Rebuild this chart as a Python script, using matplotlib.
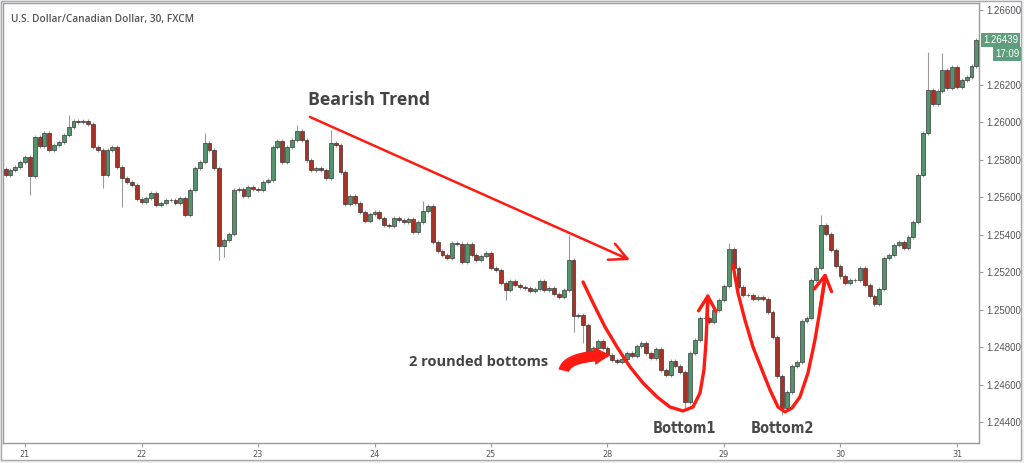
import numpy as np
import matplotlib
matplotlib.use("Agg")
import matplotlib.pyplot as plt
from matplotlib.patches import Rectangle, FancyArrowPatch

# USD/CAD candles, one per hour; x in trading days (0 = day 21, weekend removed)
first_hour = -4
closes = [
    1.25719, 1.25745, 1.25761, 1.25788,
    # 21
    1.25815, 1.25713, 1.25921, 1.25873, 1.25943, 1.25852, 1.25879, 1.25895,
    1.25932, 1.25975, 1.26007, 1.26001, 1.26007, 1.25991, 1.25868, 1.25852,
    1.25719, 1.25852, 1.25868, 1.25761, 1.25703, 1.25681, 1.25665, 1.25591,
    # 22
    1.25575, 1.25596, 1.25623, 1.25559, 1.25569, 1.25585, 1.25585, 1.25569,
    1.25596, 1.25505, 1.25639, 1.25756, 1.25788, 1.25889, 1.25852, 1.25756,
    1.25340, 1.25372, 1.25404, 1.25639, 1.25644, 1.25607, 1.25655, 1.25644,
    # 23
    1.25639, 1.25681, 1.25692, 1.25868, 1.25900, 1.25788, 1.25868, 1.25905,
    1.25953, 1.25905, 1.25799, 1.25745, 1.25756, 1.25745, 1.25703, 1.25889,
    1.25879, 1.25735, 1.25564, 1.25607, 1.25569, 1.25521, 1.25473, 1.25511,
    # 24
    1.25521, 1.25489, 1.25452, 1.25447, 1.25489, 1.25479, 1.25468, 1.25484,
    1.25415, 1.25468, 1.25527, 1.25553, 1.25361, 1.25313, 1.25292, 1.25276,
    1.25356, 1.25351, 1.25255, 1.25351, 1.25292, 1.25265, 1.25287, 1.25303,
    # 25
    1.25223, 1.25212, 1.25143, 1.25105, 1.25153, 1.25132, 1.25121, 1.25116,
    1.25100, 1.25111, 1.25153, 1.25105, 1.25116, 1.25084, 1.25068, 1.25105,
    1.25265, 1.24967, 1.24972, 1.24919, 1.24754, 1.24796, 1.24833, 1.24796,
    # 28
    1.24759, 1.24732, 1.24721, 1.24737, 1.24769, 1.24754, 1.24807, 1.24823,
    1.24769, 1.24743, 1.24791, 1.24679, 1.24653, 1.24727, 1.24701, 1.24668,
    1.24510, 1.24769, 1.24839, 1.24956, 1.24956, 1.24935, 1.24999, 1.25052,
    # 29
    1.25127, 1.25324, 1.25223, 1.25121, 1.25079, 1.25079, 1.25057, 1.25068,
    1.25057, 1.24988, 1.24855, 1.24647, 1.24476, 1.24561, 1.24701, 1.24721,
    1.24940, 1.24956, 1.25159, 1.25223, 1.25452, 1.25404, 1.25319, 1.25233,
    # 30
    1.25178, 1.25143, 1.25159, 1.25159, 1.25223, 1.25132, 1.25074, 1.25031,
    1.25111, 1.25276, 1.25292, 1.25345, 1.25361, 1.25329, 1.25388, 1.25468,
    1.25719, 1.25943, 1.26172, 1.26097, 1.26167, 1.26279, 1.26183, 1.26295,
    # 31
    1.26188, 1.26225, 1.26241, 1.26300, 1.26439,
]
first_open = 1.25750

# longer wicks (hour index -> price)
spike_high = {9: 1.26040, 37: 1.25940, 56: 1.25985, 63: 1.25959, 82: 1.25580,
              112: 1.25399, 145: 1.25356, 164: 1.25505, 186: 1.26375, 189: 1.26370}
spike_low = {1: 1.25612, 16: 1.25649, 20: 1.25548, 40: 1.25265, 41: 1.25280,
             99: 1.25050, 113: 1.24880, 115: 1.24820, 136: 1.24476, 156: 1.24439}

day_labels = ["21", "22", "23", "24", "25", "28", "29", "30", "31"]
# 1.26400 sits under the last-price boxes, so it is not labelled
price_ticks = [1.244, 1.246, 1.248, 1.250, 1.252, 1.254, 1.256, 1.258, 1.260, 1.262, 1.266]
last_price = 1.26439
countdown = "17:09"

GREEN = "#53946d"
RED = "#a93226"
ANN = "#ff1a12"

closes = np.array(closes)
opens = np.concatenate([[first_open], closes[:-1]])
hours = np.arange(first_hour, first_hour + len(closes))
x = hours / 24.0
wick = 0.00012
highs = np.maximum(opens, closes) + wick
lows = np.minimum(opens, closes) - wick
for h, v in spike_high.items():
    highs[h - first_hour] = v
for h, v in spike_low.items():
    lows[h - first_hour] = v

fig = plt.figure(figsize=(10.24, 4.63), dpi=100, facecolor="#eef0f3")
fig.patches.append(Rectangle((1 / 1024, 1 - 460 / 463), 1020 / 1024, 459 / 463,
                             transform=fig.transFigure, facecolor="white",
                             edgecolor="#a8a8a8", lw=1, zorder=-5))
ax = fig.add_axes([3 / 1024, 1 - 443 / 463, 976 / 1024, 440 / 463])
ax.set_facecolor("white")

up = closes >= opens
ax.vlines(x, lows, highs, color="#9a9a9a", lw=0.8, zorder=2)
body_w = 0.8 / 24
heights = np.maximum(np.abs(closes - opens), 0.00002)
ax.bar(x[up], heights[up], bottom=np.minimum(opens, closes)[up], width=body_w,
       color=GREEN, edgecolor="#2a2a2a", lw=0.45, zorder=3)
ax.bar(x[~up], heights[~up], bottom=np.minimum(opens, closes)[~up], width=body_w,
       color=RED, edgecolor="#2a2a2a", lw=0.45, zorder=3)

ax.set_xlim(-0.189, 8.189)
ax.set_ylim(1.24289, 1.26636)
ax.set_xticks(range(len(day_labels)))
ax.set_xticklabels(day_labels, family="DejaVu Sans", fontstretch="condensed", fontsize=6.5, color="#555555")
ax.yaxis.tick_right()
ax.set_yticks(price_ticks)
ax.set_yticklabels([f"{p:.5f}" for p in price_ticks], family=["Liberation Sans", "DejaVu Sans"],
                   fontsize=7, color="#555555")
ax.tick_params(axis="both", length=3, width=0.8, color="#999999", pad=2)
for s in ax.spines.values():
    s.set_color("#9a9a9a")
    s.set_linewidth(1)

# title
ax.text(0.008, 0.975, "U.S. Dollar/Canadian Dollar, 30, FXCM", transform=ax.transAxes,
        ha="left", va="top", fontsize=7.3, color="#555555", family=["Open Sans", "DejaVu Sans"],
        fontweight="semibold")

# last price boxes
ax.annotate(f"{last_price:.5f}", xy=(1.0, last_price), xycoords=("axes fraction", "data"),
            xytext=(3, 0), textcoords="offset points", ha="left", va="center",
            fontsize=7, color="white", family=["Liberation Sans", "DejaVu Sans"],
            bbox=dict(boxstyle="square,pad=0.2", fc="#5f9e7c", ec="none"), annotation_clip=False)
ax.annotate(countdown, xy=(1.0, last_price - 0.00075), xycoords=("axes fraction", "data"),
            xytext=(29, 0), textcoords="offset points", ha="right", va="center",
            fontsize=7, color="white", family=["Liberation Sans", "DejaVu Sans"],
            bbox=dict(boxstyle="square,pad=0.2", fc="#5f9e7c", ec="none"), annotation_clip=False)

# bearish trend arrow
ax.annotate("", xy=(5.193, 1.25265), xytext=(2.446, 1.26028),
            arrowprops=dict(arrowstyle="->,head_length=0.7,head_width=0.35", color=ANN, lw=1.8,
                            mutation_scale=18, shrinkA=0, shrinkB=0), zorder=5)
ax.text(2.43, 1.26119, "Bearish Trend", ha="left", va="center", fontsize=12.8,
        fontweight="bold", color="#444444", family=["Open Sans", "DejaVu Sans"])

# rounded bottom curves
curve1_d = [4.790, 4.876, 4.979, 5.082, 5.193, 5.305, 5.425, 5.536, 5.648, 5.734, 5.794, 5.828, 5.845, 5.854, 5.860]
curve1_p = [1.25148, 1.25036, 1.24908, 1.24801, 1.24695, 1.24609, 1.24535, 1.24481, 1.24460, 1.24481,
            1.24556, 1.24679, 1.24823, 1.24945, 1.25040]
curve2_d = [6.077, 6.120, 6.180, 6.249, 6.326, 6.395, 6.464, 6.524, 6.584, 6.652, 6.721, 6.781, 6.824, 6.862]
curve2_p = [1.25239, 1.25089, 1.24945, 1.24801, 1.24679, 1.24572, 1.24481, 1.24455, 1.24476, 1.24535,
            1.24663, 1.24839, 1.24999, 1.25140]
for cd, cp, tip in [(curve1_d, curve1_p, (5.862, 1.25090)), (curve2_d, curve2_p, (6.872, 1.25200))]:
    ax.plot(cd, cp, color=ANN, lw=2.4, solid_capstyle="round", solid_joinstyle="round", zorder=5)
    ax.annotate("", xy=tip, xytext=(cd[-2], cp[-2]),
                arrowprops=dict(arrowstyle="->,head_length=0.6,head_width=0.35", color=ANN, lw=2.4,
                                mutation_scale=18, shrinkA=0, shrinkB=0), zorder=5)

# hooked arrow
ax.add_patch(FancyArrowPatch((4.622, 1.24660), (5.052, 1.24757),
                             connectionstyle="angle3,angleA=90,angleB=0",
                             arrowstyle="simple,head_length=0.9,head_width=1.0,tail_width=0.6",
                             mutation_scale=13, color=ANN, lw=0, zorder=5))
ax.text(4.489, 1.24721, "2 rounded bottoms", ha="right", va="center", fontsize=10.5,
        fontweight="bold", color="#444444", family=["Open Sans", "DejaVu Sans"])

for label, d in [("Bottom1", 5.657), ("Bottom2", 6.498)]:
    ax.text(d, 1.24369, label, ha="center", va="center", fontsize=10.5, fontweight="bold",
            color="#4a4a4a", family="DejaVu Sans", fontstretch="condensed")

fig.savefig("out.png", dpi=100, facecolor=fig.get_facecolor())
